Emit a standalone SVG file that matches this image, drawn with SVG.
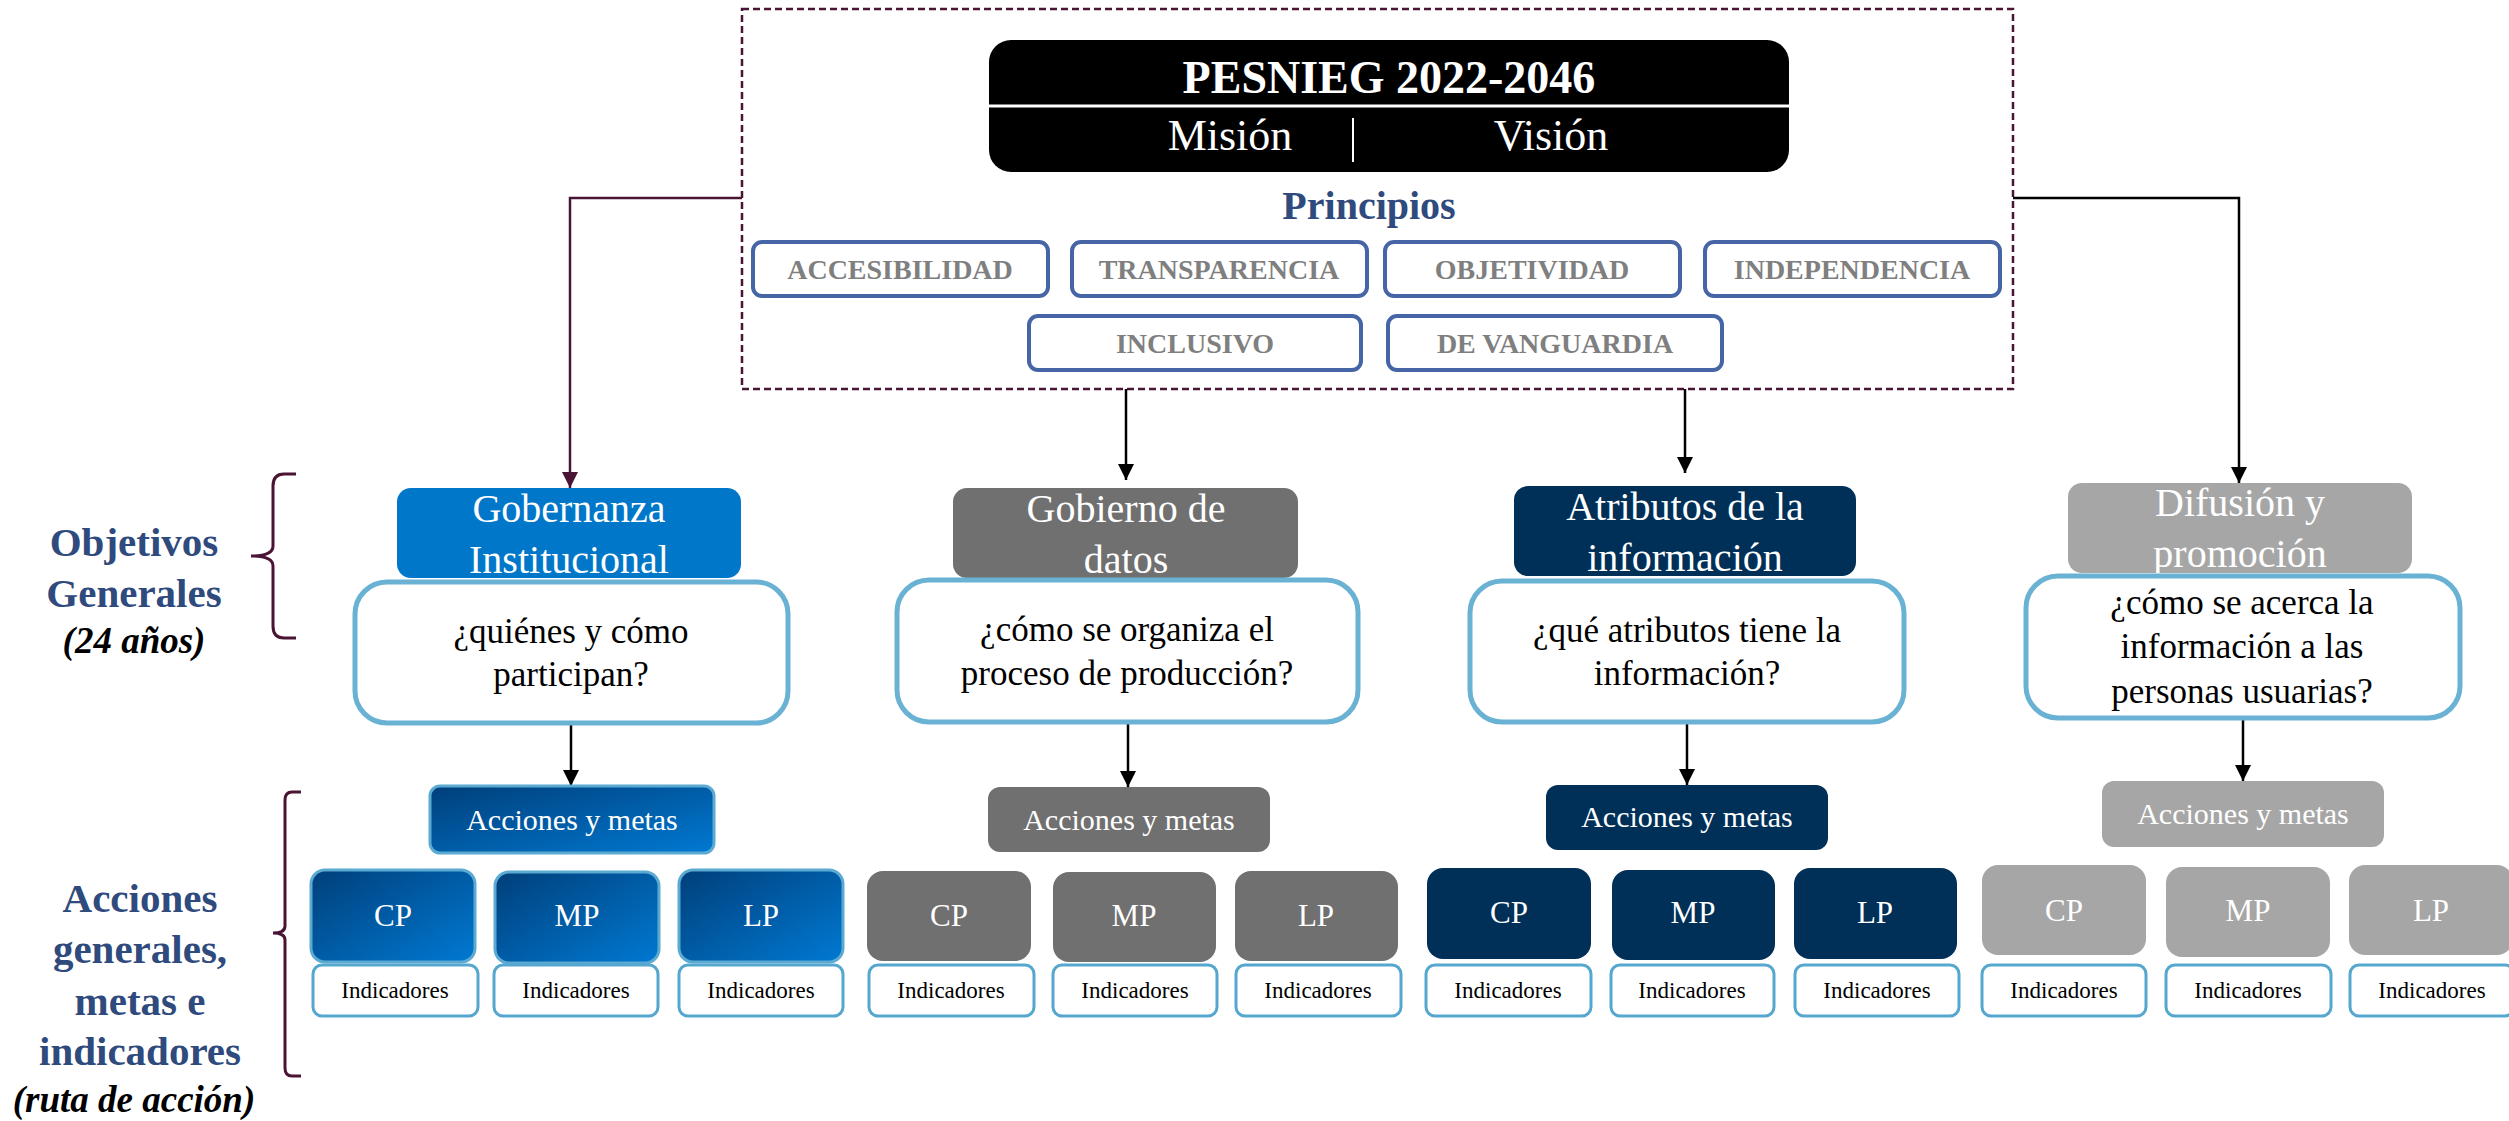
<svg xmlns="http://www.w3.org/2000/svg" width="2509" height="1121" viewBox="0 0 2509 1121">
<defs>
<linearGradient id="gblue" x1="0" y1="0" x2="1" y2="1">
<stop offset="0" stop-color="#003F7A"/>
<stop offset="1" stop-color="#0079D2"/>
</linearGradient>
<marker id="ah" markerUnits="userSpaceOnUse" markerWidth="16" markerHeight="18" refX="16" refY="8" orient="auto">
<path d="M0,0 L16,8 L0,16 Z" fill="#000"/>
</marker>
<marker id="ahm" markerUnits="userSpaceOnUse" markerWidth="16" markerHeight="18" refX="16" refY="8" orient="auto">
<path d="M0,0 L16,8 L0,16 Z" fill="#4A1535"/>
</marker>
</defs>
<style>
text{font-family:"Liberation Serif","DejaVu Serif",serif;text-anchor:middle}
.lbl{font-weight:bold;font-size:41px;fill:#2F4A7C}
.lbli{font-weight:bold;font-style:italic;font-size:37px;fill:#000}
.pr{fill:#fff;stroke:#4565A6;stroke-width:4}
.prt{font-weight:bold;font-size:28px;fill:#7F7F7F}
.tt{font-size:40px;fill:#fff}
.q{fill:#fff;stroke:#6AB2D3;stroke-width:5}
.qt{font-size:35px;fill:#000}
.am{font-size:30px;fill:#fff}
.ind{fill:#fff;stroke:#55A7CF;stroke-width:3}
.indt{font-size:23px;fill:#000}
.k{font-size:31px;fill:#fff}
.blue{fill:url(#gblue);stroke:#5AAAD2;stroke-width:3}
.gray{fill:#707070}
.navy{fill:#002F57}
.lg{fill:#A6A6A6}
.con{fill:none;stroke:#000;stroke-width:2.5}
.brk{fill:none;stroke:#4A1535;stroke-width:3}
</style>

<g id="labels">
<text class="lbl" x="134" y="556">Objetivos</text>
<text class="lbl" x="134" y="607">Generales</text>
<text class="lbli" x="134" y="653">(24 años)</text>
<path class="brk" d="M296,474 H284 Q273,474 273,486 V546 Q273,556 251,556 Q273,556 273,566 V626 Q273,638 284,638 H296"/>
<text class="lbl" x="140" y="912">Acciones</text>
<text class="lbl" x="140" y="963">generales,</text>
<text class="lbl" x="140" y="1015">metas e</text>
<text class="lbl" x="140" y="1065">indicadores</text>
<text class="lbli" x="134" y="1112">(ruta de acción)</text>
<path class="brk" d="M301,792 H292 Q285,792 285,800 V926 Q285,933 273,933 Q285,933 285,940 V1068 Q285,1076 292,1076 H301"/>
</g>

<g id="pesnieg">
<rect x="742" y="9" width="1271" height="380" fill="none" stroke="#4A1535" stroke-width="2.5" stroke-dasharray="7,4"/>
<rect x="989" y="40" width="800" height="132" rx="22" fill="#000"/>
<line x1="989" y1="106" x2="1789" y2="106" stroke="#fff" stroke-width="3"/>
<line x1="1353" y1="118" x2="1353" y2="162" stroke="#fff" stroke-width="2"/>
<text x="1389" y="93" font-size="46" font-weight="bold" fill="#fff">PESNIEG 2022-2046</text>
<text x="1230" y="150" font-size="44" fill="#fff">Misión</text>
<text x="1551" y="150" font-size="44" fill="#fff">Visión</text>
<text x="1369" y="219" font-size="40" font-weight="bold" fill="#2F4A7C">Principios</text>
</g>

<g id="p-accesibilidad"><rect class="pr" x="753" y="242" width="295" height="54" rx="9"/><text class="prt" x="900" y="279">ACCESIBILIDAD</text></g>
<g id="p-transparencia"><rect class="pr" x="1072" y="242" width="295" height="54" rx="9"/><text class="prt" x="1219" y="279">TRANSPARENCIA</text></g>
<g id="p-objetividad"><rect class="pr" x="1385" y="242" width="295" height="54" rx="9"/><text class="prt" x="1532" y="279">OBJETIVIDAD</text></g>
<g id="p-independencia"><rect class="pr" x="1705" y="242" width="295" height="54" rx="9"/><text class="prt" x="1852" y="279">INDEPENDENCIA</text></g>
<g id="p-inclusivo"><rect class="pr" x="1029" y="316" width="332" height="54" rx="9"/><text class="prt" x="1195" y="353">INCLUSIVO</text></g>
<g id="p-vanguardia"><rect class="pr" x="1388" y="316" width="334" height="54" rx="9"/><text class="prt" x="1555" y="353">DE VANGUARDIA</text></g>

<g id="connectors">
<path d="M742,198 H570 V488" fill="none" stroke="#4A1535" stroke-width="2.5" marker-end="url(#ahm)"/>
<path class="con" d="M2013,198 H2239 V483" marker-end="url(#ah)"/>
<path class="con" d="M1126,389 V480" marker-end="url(#ah)"/>
<path class="con" d="M1685,389 V473" marker-end="url(#ah)"/>
<path class="con" d="M571,724 V786" marker-end="url(#ah)"/>
<path class="con" d="M1128,722 V787" marker-end="url(#ah)"/>
<path class="con" d="M1687,722 V785" marker-end="url(#ah)"/>
<path class="con" d="M2243,718 V781" marker-end="url(#ah)"/>
</g>

<g id="obj-gobernanza">
<rect x="397" y="488" width="344" height="90" rx="14" fill="#0077C8"/>
<text class="tt" x="569" y="522">Gobernanza</text>
<text class="tt" x="569" y="573">Institucional</text>
<rect class="q" x="355" y="582" width="433" height="141" rx="32"/>
<text class="qt" x="571" y="643">¿quiénes y cómo</text>
<text class="qt" x="571" y="686">participan?</text>
</g>
<g id="obj-gobierno">
<rect x="953" y="488" width="345" height="90" rx="14" fill="#707070"/>
<text class="tt" x="1126" y="522">Gobierno de</text>
<text class="tt" x="1126" y="573">datos</text>
<rect class="q" x="897" y="580" width="461" height="142" rx="32"/>
<text class="qt" x="1127" y="641">¿cómo se organiza el</text>
<text class="qt" x="1127" y="685">proceso de producción?</text>
</g>
<g id="obj-atributos">
<rect x="1514" y="486" width="342" height="90" rx="14" fill="#002F57"/>
<text class="tt" x="1685" y="520">Atributos de la</text>
<text class="tt" x="1685" y="571">información</text>
<rect class="q" x="1470" y="581" width="434" height="141" rx="32"/>
<text class="qt" x="1687" y="642">¿qué atributos tiene la</text>
<text class="qt" x="1687" y="685">información?</text>
</g>
<g id="obj-difusion">
<rect x="2068" y="483" width="344" height="90" rx="14" fill="#A6A6A6"/>
<text class="tt" x="2240" y="516" fill="#F2F2F2">Difusión y</text>
<text class="tt" x="2240" y="567" fill="#F2F2F2">promoción</text>
<rect class="q" x="2026" y="576" width="434" height="142" rx="32"/>
<text class="qt" x="2242" y="614">¿cómo se acerca la</text>
<text class="qt" x="2242" y="658">información a las</text>
<text class="qt" x="2242" y="703">personas usuarias?</text>
</g>

<g id="acc-gobernanza">
<rect class="blue" x="430" y="786" width="284" height="67" rx="10"/>
<text class="am" x="572" y="830">Acciones y metas</text>
<rect class="blue" x="311" y="870" width="164" height="92" rx="14"/><text class="k" x="393" y="926">CP</text>
<rect class="blue" x="495" y="872" width="164" height="91" rx="14"/><text class="k" x="577" y="926">MP</text>
<rect class="blue" x="679" y="870" width="164" height="92" rx="14"/><text class="k" x="761" y="926">LP</text>
<rect class="ind" x="313" y="965" width="165" height="51" rx="9"/><text class="indt" x="395" y="998">Indicadores</text>
<rect class="ind" x="494" y="965" width="164" height="51" rx="9"/><text class="indt" x="576" y="998">Indicadores</text>
<rect class="ind" x="679" y="965" width="164" height="51" rx="9"/><text class="indt" x="761" y="998">Indicadores</text>
</g>
<g id="acc-gobierno">
<rect class="gray" x="988" y="787" width="282" height="65" rx="12"/>
<text class="am" x="1129" y="830">Acciones y metas</text>
<rect class="gray" x="867" y="871" width="164" height="90" rx="16"/><text class="k" x="949" y="926">CP</text>
<rect class="gray" x="1053" y="872" width="163" height="90" rx="16"/><text class="k" x="1134" y="926">MP</text>
<rect class="gray" x="1235" y="871" width="163" height="90" rx="16"/><text class="k" x="1316" y="926">LP</text>
<rect class="ind" x="869" y="965" width="165" height="51" rx="9"/><text class="indt" x="951" y="998">Indicadores</text>
<rect class="ind" x="1053" y="965" width="164" height="51" rx="9"/><text class="indt" x="1135" y="998">Indicadores</text>
<rect class="ind" x="1236" y="965" width="165" height="51" rx="9"/><text class="indt" x="1318" y="998">Indicadores</text>
</g>
<g id="acc-atributos">
<rect class="navy" x="1546" y="785" width="282" height="65" rx="12"/>
<text class="am" x="1687" y="827">Acciones y metas</text>
<rect class="navy" x="1427" y="868" width="164" height="91" rx="16"/><text class="k" x="1509" y="923">CP</text>
<rect class="navy" x="1612" y="870" width="163" height="90" rx="16"/><text class="k" x="1693" y="923">MP</text>
<rect class="navy" x="1794" y="868" width="163" height="91" rx="16"/><text class="k" x="1875" y="923">LP</text>
<rect class="ind" x="1426" y="965" width="165" height="51" rx="9"/><text class="indt" x="1508" y="998">Indicadores</text>
<rect class="ind" x="1611" y="965" width="163" height="51" rx="9"/><text class="indt" x="1692" y="998">Indicadores</text>
<rect class="ind" x="1795" y="965" width="164" height="51" rx="9"/><text class="indt" x="1877" y="998">Indicadores</text>
</g>
<g id="acc-difusion">
<rect class="lg" x="2102" y="781" width="282" height="66" rx="12"/>
<text class="am" x="2243" y="824">Acciones y metas</text>
<rect class="lg" x="1982" y="865" width="164" height="90" rx="16"/><text class="k" x="2064" y="921" fill="#F2F2F2">CP</text>
<rect class="lg" x="2166" y="867" width="164" height="90" rx="16"/><text class="k" x="2248" y="921" fill="#F2F2F2">MP</text>
<rect class="lg" x="2349" y="865" width="164" height="90" rx="16"/><text class="k" x="2431" y="921" fill="#F2F2F2">LP</text>
<rect class="ind" x="1982" y="965" width="164" height="51" rx="9"/><text class="indt" x="2064" y="998">Indicadores</text>
<rect class="ind" x="2166" y="965" width="165" height="51" rx="9"/><text class="indt" x="2248" y="998">Indicadores</text>
<rect class="ind" x="2350" y="965" width="164" height="51" rx="9"/><text class="indt" x="2432" y="998">Indicadores</text>
</g>
</svg>
